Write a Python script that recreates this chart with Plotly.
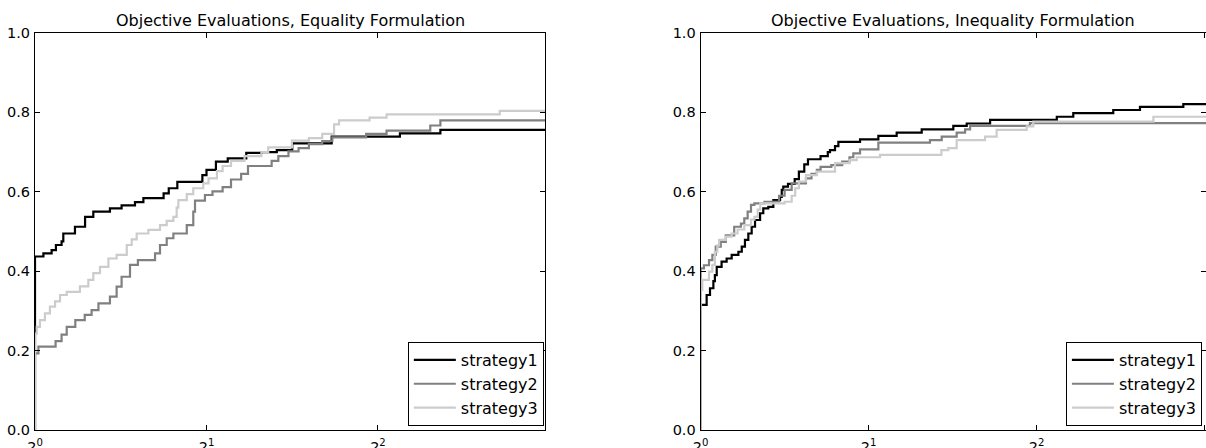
import numpy as np
import plotly.graph_objects as go

# ---- data (performance ratio tau given as log2(tau); fraction of problems) ----
series_names = ["strategy1", "strategy2", "strategy3"]
series_colors = ["#000000", "#808080", "#cccccc"]
titles = ["Objective Evaluations, Equality Formulation",
          "Objective Evaluations, Inequality Formulation"]
x_tickvals = [1, 2, 4, 8]
x_ticktext = ["2<sup>0</sup>", "2<sup>1</sup>", "2<sup>2</sup>", "2<sup>3</sup>"]
y_tickvals = [0.0, 0.2, 0.4, 0.6, 0.8, 1.0]
y_ticktext = ["0.0", "0.2", "0.4", "0.6", "0.8", "1.0"]

# Equality formulation
eq_s1_log2tau = [0, 0, 0.049, 0.097, 0.122, 0.155, 0.165, 0.233, 0.292, 0.34, 0.437, 0.505, 0.583, 0.632,
                 0.75, 0.78, 0.83, 0.976, 1.0, 1.055, 1.124, 1.232, 1.321, 1.41, 1.5, 1.73, 2.128, 2.364, 2.974]
eq_s1_frac = [0, 0.437, 0.445, 0.453, 0.466, 0.475, 0.495, 0.512, 0.537, 0.55, 0.558, 0.566, 0.574, 0.584,
              0.596, 0.609, 0.625, 0.642, 0.655, 0.676, 0.684, 0.698, 0.70, 0.705, 0.722, 0.739, 0.747, 0.756, 0.756]

eq_s2_log2tau = [0, 0, 0.02, 0.12, 0.155, 0.185, 0.235, 0.29, 0.33, 0.37, 0.437, 0.476, 0.505, 0.554, 0.6,
                 0.7, 0.729, 0.768, 0.807, 0.885, 0.923, 0.933, 0.991, 1.035, 1.094, 1.143, 1.202, 1.242,
                 1.38, 1.419, 1.478, 1.537, 1.597, 1.675, 1.734, 1.931, 2.05, 2.305, 2.364, 2.974]
eq_s2_frac = [0, 0.193, 0.21, 0.224, 0.24, 0.26, 0.277, 0.29, 0.302, 0.319, 0.336, 0.361, 0.386, 0.416, 0.428,
              0.445, 0.466, 0.483, 0.495, 0.516, 0.55, 0.578, 0.592, 0.601, 0.612, 0.631, 0.645, 0.665,
              0.678, 0.69, 0.702, 0.71, 0.72, 0.728, 0.737, 0.746, 0.754, 0.767, 0.78, 0.78]

eq_s3_log2tau = [0, 0, 0.01, 0.029, 0.058, 0.087, 0.117, 0.146, 0.185, 0.262, 0.311, 0.34, 0.379, 0.428,
                 0.476, 0.535, 0.564, 0.593, 0.661, 0.729, 0.768, 0.807, 0.826, 0.836, 0.885, 0.923, 0.981,
                 1.012, 1.061, 1.094, 1.143, 1.222, 1.32, 1.36, 1.498, 1.597, 1.675, 1.744, 1.773, 1.951,
                 2.05, 2.71, 2.974]
eq_s3_frac = [0, 0.243, 0.26, 0.277, 0.294, 0.311, 0.324, 0.34, 0.348, 0.362, 0.378, 0.395, 0.411, 0.432,
              0.441, 0.466, 0.48, 0.495, 0.504, 0.516, 0.527, 0.537, 0.56, 0.579, 0.594, 0.609, 0.621,
              0.634, 0.652, 0.665, 0.678, 0.69, 0.70, 0.712, 0.729, 0.735, 0.746, 0.77, 0.78, 0.787,
              0.795, 0.804, 0.804]

# Inequality formulation
ineq_s1_log2tau = [0, 0, 0.036, 0.056, 0.076, 0.085, 0.096, 0.125, 0.155, 0.185, 0.225, 0.245, 0.264, 0.284,
                   0.304, 0.324, 0.354, 0.373, 0.403, 0.433, 0.473, 0.483, 0.492, 0.52, 0.56, 0.585, 0.617,
                   0.639, 0.714, 0.757, 0.77, 0.80, 0.82, 0.949, 1.058, 1.167, 1.316, 1.504, 1.584, 1.723,
                   2.12, 2.218, 2.456, 2.615, 2.873, 3.02]
ineq_s1_frac = [0, 0.315, 0.34, 0.357, 0.375, 0.39, 0.411, 0.424, 0.432, 0.441, 0.449, 0.462, 0.479, 0.495,
                0.512, 0.529, 0.546, 0.558, 0.562, 0.579, 0.587, 0.605, 0.613, 0.62, 0.632, 0.651, 0.669,
                0.682, 0.69, 0.70, 0.705, 0.715, 0.726, 0.732, 0.741, 0.749, 0.757, 0.766, 0.772, 0.781,
                0.789, 0.798, 0.806, 0.814, 0.821, 0.821]

ineq_s2_log2tau = [0, 0, 0.02, 0.05, 0.07, 0.09, 0.12, 0.15, 0.2, 0.24, 0.26, 0.28, 0.30, 0.32, 0.38, 0.467,
                   0.5, 0.542, 0.627, 0.66, 0.692, 0.714, 0.778, 0.843, 0.886, 0.909, 0.949, 1.058, 1.365,
                   1.435, 1.524, 1.574, 1.604, 1.96, 3.02]
ineq_s2_frac = [0, 0.407, 0.415, 0.428, 0.441, 0.462, 0.474, 0.49, 0.512, 0.52, 0.533, 0.55, 0.567, 0.571,
                0.575, 0.59, 0.605, 0.621, 0.634, 0.645, 0.655, 0.663, 0.667, 0.676, 0.687, 0.697, 0.707,
                0.724, 0.73, 0.739, 0.749, 0.757, 0.766, 0.773, 0.773]

ineq_s3_log2tau = [0, 0, 0.01, 0.05, 0.07, 0.085, 0.1, 0.11, 0.15, 0.185, 0.22, 0.26, 0.3, 0.32, 0.34, 0.355,
                   0.50, 0.542, 0.563, 0.585, 0.627, 0.692, 0.8, 0.886, 0.929, 1.068, 1.433, 1.474, 1.524,
                   1.693, 1.762, 1.941, 1.98, 2.695, 3.02]
ineq_s3_frac = [0, 0.353, 0.378, 0.399, 0.416, 0.449, 0.465, 0.479, 0.487, 0.495, 0.505, 0.516, 0.53, 0.537,
                0.555, 0.571, 0.575, 0.59, 0.609, 0.626, 0.642, 0.651, 0.672, 0.68, 0.687, 0.693, 0.705,
                0.71, 0.73, 0.739, 0.756, 0.765, 0.777, 0.789, 0.789]

x_max_log2 = [2.974, 3.008]

# ---- figure ----
FONT = "DejaVu Sans"
W, H = 1206, 448
ML, MR, MT, MB = 35, 0, 33, 18
plot_w = W - ML - MR
dom_left = [0.0, (545 - ML) / plot_w]
dom_right = [(700.6 - ML) / plot_w, 1.0]

panels = [
    [(eq_s1_log2tau, eq_s1_frac), (eq_s2_log2tau, eq_s2_frac), (eq_s3_log2tau, eq_s3_frac)],
    [(ineq_s1_log2tau, ineq_s1_frac), (ineq_s2_log2tau, ineq_s2_frac), (ineq_s3_log2tau, ineq_s3_frac)],
]

fig = go.Figure()
for p, series in enumerate(panels):
    xa = "x" if p == 0 else "x2"
    ya = "y" if p == 0 else "y2"
    leg = "legend" if p == 0 else "legend2"
    for k, (lx, fy) in enumerate(series):
        fig.add_trace(go.Scatter(
            x=np.power(2.0, np.array(lx)), y=fy, mode="lines",
            line=dict(color=series_colors[k], width=2.2, shape="hv"),
            name=series_names[k], xaxis=xa, yaxis=ya, legend=leg,
        ))

axis_common = dict(ticks="inside", ticklen=5, tickwidth=1, tickcolor="black",
                   showline=True, linecolor="black", linewidth=1, mirror="ticks",
                   showgrid=False, zeroline=False, automargin=False,
                   tickfont=dict(family=FONT, size=14.5, color="black"))

xcommon = dict(axis_common, type="log", tickmode="array", tickvals=x_tickvals, ticktext=x_ticktext,
               ticklabelstandoff=4)
ycommon = dict(axis_common, range=[0, 1], tickmode="array", tickvals=y_tickvals, ticktext=y_ticktext,
               ticklabelstandoff=1)

legend_common = dict(y=0.01, yanchor="bottom", xanchor="right",
                     bordercolor="black", borderwidth=1, bgcolor="white", itemwidth=42,
                     font=dict(family=FONT, size=16, color="black"), tracegroupgap=0)

fig.update_layout(
    width=W, height=H, margin=dict(l=ML, r=MR, t=MT, b=MB, pad=0, autoexpand=False),
    paper_bgcolor="white", plot_bgcolor="white",
    font=dict(family=FONT, color="black"),
    xaxis=dict(xcommon, domain=dom_left, range=[0, x_max_log2[0] * np.log10(2)], anchor="y"),
    yaxis=dict(ycommon, domain=[0, 1], anchor="x"),
    xaxis2=dict(xcommon, domain=dom_right, range=[0, x_max_log2[1] * np.log10(2)], anchor="y2"),
    yaxis2=dict(ycommon, domain=[0, 1], anchor="x2"),
    legend=dict(legend_common, x=dom_left[1] - 0.001),
    legend2=dict(legend_common, x=dom_right[1] - 0.0035),
    showlegend=True,
)

for p, dom in enumerate([dom_left, dom_right]):
    fig.add_annotation(text=titles[p], xref="paper", yref="paper",
                       x=(dom[0] + dom[1]) / 2, y=1, xanchor="center", yanchor="bottom",
                       yshift=1, showarrow=False, font=dict(family=FONT, size=16, color="black"))

fig.write_html("out.html", config={"displayModeBar": False},
               post_script="document.body.style.margin='0';document.body.style.overflow='hidden';")
